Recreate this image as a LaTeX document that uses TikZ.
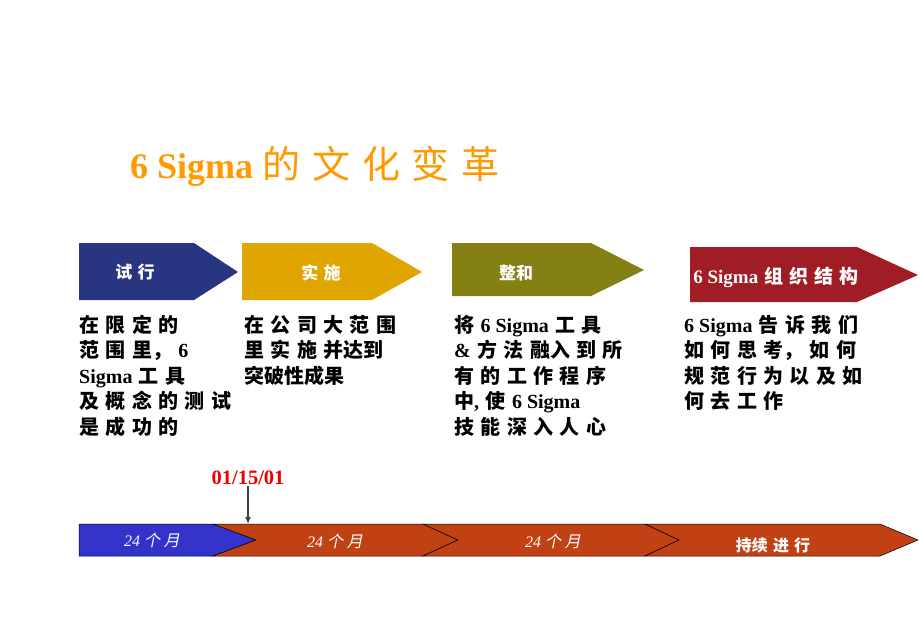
\documentclass[tikz,border=0pt]{standalone}
\usepackage{fontspec}
\setmainfont{Liberation Serif}
\newfontfamily\cjk{Noto Sans CJK SC}
\newfontfamily\cjkwide[WordSpace=1.4]{Noto Sans CJK SC}
\newfontfamily\cjkslant[FakeSlant=0.2]{Noto Sans CJK SC}
\usetikzlibrary{positioning}
\usetikzlibrary{arrows.meta, calc}
\definecolor{navysix}{RGB}{40,53,128}
\definecolor{goldsix}{RGB}{224,165,0}
\definecolor{olivesix}{RGB}{133,128,20}
\definecolor{redsix}{RGB}{161,29,37}
\definecolor{tlblue}{RGB}{51,51,204}
\definecolor{tlorange}{RGB}{191,65,20}
\definecolor{sigorange}{RGB}{255,153,0}
\definecolor{datered}{RGB}{238,0,0}
\newcommand\lat[1]{{\rmfamily #1}}

\begin{document}
\begin{tikzpicture}[x=1pt, y=-1pt, >={Latex[length=7pt, width=6pt]}]%
            \tikzstyle{hdr} = [text = white, inner sep = 0pt, font = \cjk\bfseries\fontsize{17}{20}\selectfont]
            \tikzstyle{body} = [anchor = base west, align = left, inner sep = 0pt, font = \cjkwide\bfseries\fontsize{20}{25.5}\selectfont]
            \tikzstyle{seg} = [draw = black, line width = 0.5pt]
            \tikzstyle{span} = [text = white, inner sep = 0pt, font = \fontsize{16}{18}\selectfont]
        %%
            \useasboundingbox (0,0) rectangle (920,638);
            %% Title
            \node [anchor = base west, inner sep = 0pt, text = sigorange, font = \fontsize{36}{40}\selectfont] (title) at (130,178) {\bfseries 6 Sigma {\cjkwide\mdseries\fontsize{38}{40}\selectfont 的 文 化 变 革}};

            %% Phases
            \fill [navysix] (79,243) -- (194,243) -- (238,272) -- (194,300) -- (79,300) -- cycle;
            \fill [goldsix] (242,243) -- (372,243) -- (422,272) -- (372,300) -- (242,300) -- cycle;
            \fill [olivesix] (452,243) -- (591,243) -- (644,270) -- (591,296) -- (452,296) -- cycle;
            \fill [redsix] (690,247) -- (857,247) -- (918,275) -- (857,302) -- (690,302) -- cycle;
            \node [hdr] (ph_pilot) at (135,272) {试 行};
            \node [hdr] (ph_deploy) at (321,273) {实 施};
            \node [hdr] (ph_merge) at (516,273) {整和};
            \node [hdr, font = \cjk\bfseries\fontsize{19}{21}\selectfont] (ph_org) at (776,277) {\lat{6 Sigma} 组 织 结 构};

            %% Descriptions (anchored at the last line)
            \node [body] (txt_pilot) at (79,434) {在 限 定 的\\范 围 里， \lat{6}\\\lat{Sigma} 工 具\\及 概 念 的 测 试\\是 成 功 的};
            \node [body] (txt_deploy) at (244,383) {在 公 司 大 范 围\\里 实 施 并达到\\突破性成果};
            \node [body] (txt_merge) at (454,434) {将 \lat{6 Sigma} 工 具\\\lat{\&} 方 法 融入 到 所\\有 的 工 作 程 序\\中\lat{,} 使 \lat{6 Sigma}\\技 能 深 入 人 心};
            \node [body] (txt_org) at (684,408.5) {\lat{6 Sigma} 告 诉 我 们\\如 何 思 考， 如 何\\规 范 行 为 以 及 如\\何 去 工 作};

            %% Timeline
            \filldraw [seg, fill = tlblue] (79,524) -- (213,524) -- (256,540) -- (213,556) -- (79,556) -- cycle;
            \filldraw [seg, fill = tlorange] (213,524) -- (423,524) -- (458,540) -- (423,556) -- (213,556) -- (256,540) -- cycle;
            \filldraw [seg, fill = tlorange] (423,524) -- (645,524) -- (679,540) -- (645,556) -- (423,556) -- (458,540) -- cycle;
            \filldraw [seg, fill = tlorange] (645,524) -- (880,524) -- (918,540) -- (880,556) -- (645,556) -- (679,540) -- cycle;
            \node [span] (sp_one) at (152,540) {\itshape 24 {\cjkslant 个 月}};
            \node [span] (sp_two) at (335,541) {\itshape 24 {\cjkslant 个 月}};
            \node [span] (sp_three) at (553,541) {\itshape 24 {\cjkslant 个 月}};
            \node [span, font = \cjk\bfseries\fontsize{16}{18}\selectfont] (sp_on) at (773,545) {持续 进 行};

            %% Cut-over date
            \node [anchor = base, inner sep = 0pt, text = datered, font = \bfseries\fontsize{20.5}{24}\selectfont] (cut_date) at (248,484) {01/15/01};
            \coordinate (bar_mark) at (248,524);
            \draw [->, black!75, line width = 1.3pt, shorten <= 2pt] (cut_date.south) -- (bar_mark);
        \end{tikzpicture}
\end{document}
